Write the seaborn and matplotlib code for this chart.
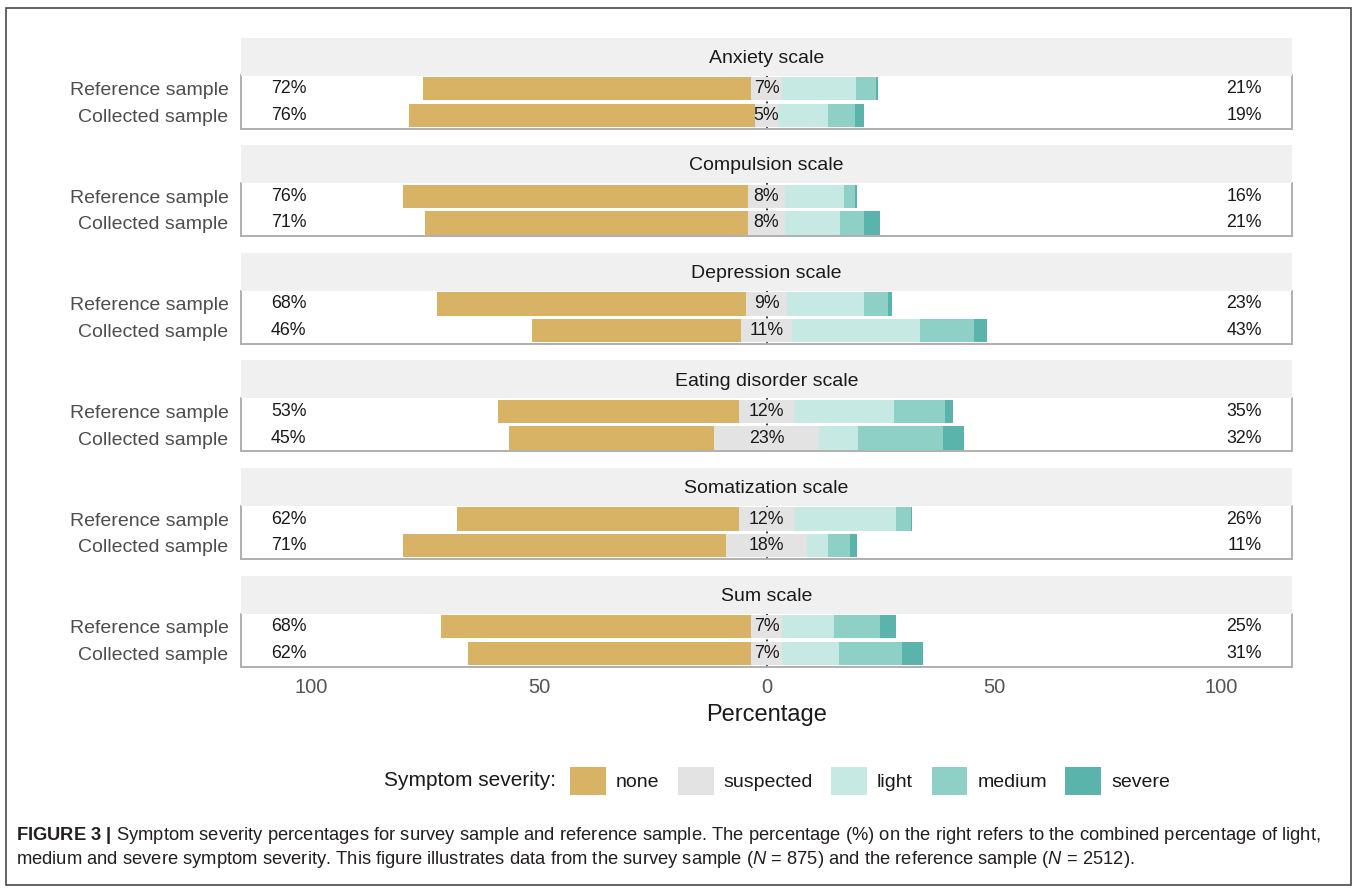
import matplotlib
matplotlib.use("Agg")
import matplotlib.pyplot as plt
from matplotlib.patches import Rectangle, Patch
import seaborn as sns
import pandas as pd

# ---------------- data ----------------
scales = ["Anxiety scale", "Compulsion scale", "Depression scale",
          "Eating disorder scale", "Somatization scale", "Sum scale"]
samples = ["Reference sample", "Collected sample"]
levels = ["none", "suspected", "light", "medium", "severe"]

none_ref = [72, 76, 68, 53, 62, 68]
none_col = [76, 71, 46, 45, 71, 62]
susp_ref = [7, 8, 9, 12, 12, 7]
susp_col = [5, 8, 11, 23, 18, 7]
light_ref = [16.2, 13.0, 17.0, 22.0, 22.4, 11.3]
light_col = [11.1, 12.1, 28.3, 8.7, 4.5, 12.5]
medium_ref = [4.3, 2.5, 5.3, 11.3, 3.3, 10.2]
medium_col = [5.9, 5.3, 11.7, 18.5, 4.8, 13.7]
severe_ref = [0.5, 0.5, 0.7, 1.7, 0.3, 3.5]
severe_col = [2.0, 3.6, 3.0, 4.8, 1.7, 4.8]

tick_vals = [-100, -75, -50, -25, 0, 25, 50, 75, 100]
tick_labels = ["100", "", "50", "", "0", "", "50", "", "100"]

colors = {"none": "#D8B365", "suspected": "#E3E3E3", "light": "#C7E9E4",
          "medium": "#8FD0C6", "severe": "#5AB4AC"}

# ---------------- style ----------------
sns.set_theme(style="white")
plt.rcParams['font.family'] = ['Liberation Sans', 'DejaVu Sans']
plt.rcParams['mathtext.fontset'] = 'custom'
plt.rcParams['mathtext.rm'] = 'Liberation Sans'
plt.rcParams['mathtext.it'] = 'Liberation Sans:italic'
plt.rcParams['mathtext.bf'] = 'Liberation Sans:bold'

W, H = 1358, 893
fig = plt.figure(figsize=(W / 100, H / 100), dpi=100)
fig.patch.set_facecolor("white")


def fx(px):
    return px / W


def fy(py):
    return 1 - py / H


left_px, right_px = 241, 1292
XMAX = 115.5
spine_c = "#AFAFAF"
label_c = "#1A1A1A"

for i, scale in enumerate(scales):
    c = 102 + 107.6 * i
    ax = fig.add_axes([fx(left_px), fy(c + 26.5), fx(right_px) - fx(left_px), 53 / H])
    sax = fig.add_axes([fx(left_px), fy(c - 26.5), fx(right_px) - fx(left_px), 38 / H])

    df = pd.DataFrame({
        "sample": samples,
        "none": [none_ref[i], none_col[i]],
        "suspected": [susp_ref[i], susp_col[i]],
        "light": [light_ref[i], light_col[i]],
        "medium": [medium_ref[i], medium_col[i]],
        "severe": [severe_ref[i], severe_col[i]],
    })
    df["half"] = df["suspected"] / 2
    df["neg_half"] = -df["half"]
    df["cum_light"] = df["half"] + df["light"]
    df["cum_med"] = df["cum_light"] + df["medium"]
    df["cum_sev"] = df["cum_med"] + df["severe"]
    df["neg_none"] = -(df["half"] + df["none"])
    df["high"] = df["light"] + df["medium"] + df["severe"]

    ax.axvline(0, color="black", ls=(0, (1.2, 3)), lw=1.1, zorder=0.5)
    layers = [("cum_sev", "severe"), ("cum_med", "medium"), ("cum_light", "light"),
              ("neg_none", "none"), ("half", "suspected"), ("neg_half", "suspected")]
    for col, key in layers:
        sns.barplot(data=df, x=col, y="sample", order=samples, orient="h",
                    color=colors[key], saturation=1, width=0.88, errorbar=None,
                    linewidth=0, ax=ax)

    for j, row in df.iterrows():
        ax.text(-105, j, f"{int(row['none'])}%", ha="center", va="center",
                fontsize=12.8, color=label_c)
        ax.text(0, j, f"{int(row['suspected'])}%", ha="center", va="center",
                fontsize=12.8, color=label_c)
        ax.text(105, j, f"{int(round(row['high']))}%", ha="center", va="center",
                fontsize=12.8, color=label_c)

    ax.set_xlim(-XMAX, XMAX)
    ax.set_ylim(1.5, -0.5)
    ax.set_xlabel("")
    ax.set_ylabel("")
    ax.set_xticks(tick_vals)
    if i == len(scales) - 1:
        ax.set_xticklabels(tick_labels)
        ax.set_xlabel("Percentage", fontsize=17, color="#1A1A1A", labelpad=5)
    else:
        ax.set_xticklabels([""] * len(tick_vals))
    ax.tick_params(axis="x", length=3.5, width=1, color=spine_c, labelsize=14.5,
                   labelcolor="#555555", pad=5)
    ax.tick_params(axis="y", length=0, labelsize=14, labelcolor="#4D4D4D", pad=9)
    for s in ["left", "right", "bottom"]:
        ax.spines[s].set_color(spine_c)
        ax.spines[s].set_linewidth(1.4)
    ax.spines["top"].set_visible(False)
    ax.set_facecolor("white")

    sax.set_facecolor("#F0F0F0")
    for s in sax.spines.values():
        s.set_visible(False)
    sax.set_xticks([])
    sax.set_yticks([])
    sax.text(0.5, 0.45, scale, transform=sax.transAxes, ha="center", va="center",
             fontsize=14, color="#1A1A1A")

# legend
handles = [Patch(facecolor=colors[k], edgecolor="none") for k in levels]
leg = fig.legend(handles, levels, loc="center", bbox_to_anchor=(fx(870), fy(781)),
                 ncol=5, frameon=False, fontsize=14, handlelength=1.85,
                 handleheight=1.85, handletextpad=0.5, columnspacing=0.95,
                 borderpad=0)
for t in leg.get_texts():
    t.set_color("#1A1A1A")
fig.text(fx(556), fy(781), "Symptom severity:", ha="right", va="center",
         fontsize=15, color="#1A1A1A")

# caption
fig.text(fx(16), fy(835),
         r"$\mathbf{FIGURE\ 3\ |}$ Symptom severity percentages for survey sample and reference sample. "
         r"The percentage (%) on the right refers to the combined percentage of light,",
         ha="left", va="center", fontsize=13.2, color="#231F20")
fig.text(fx(16), fy(860),
         r"medium and severe symptom severity. This figure illustrates data from the survey sample "
         r"($\mathit{N}$ = 875) and the reference sample ($\mathit{N}$ = 2512).",
         ha="left", va="center", fontsize=13.2, color="#231F20")

# outer frame
fig.add_artist(Rectangle((fx(6), fy(885)), fx(1351) - fx(6), fy(8) - fy(885),
                         fill=False, edgecolor="#4A4A4A", lw=1.2,
                         transform=fig.transFigure))

fig.savefig("out.png", dpi=100, facecolor="white")
